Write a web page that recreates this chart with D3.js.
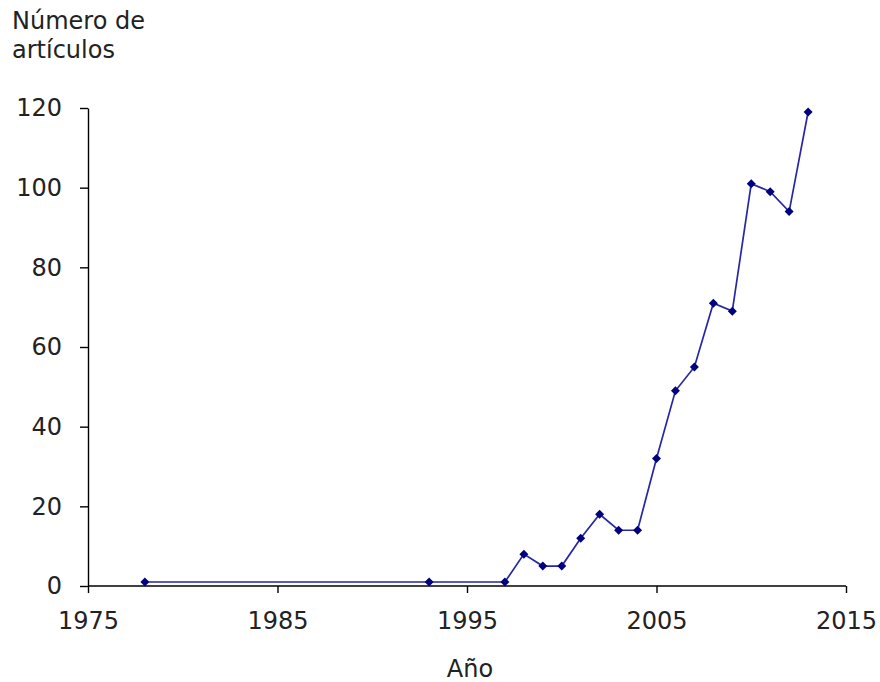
<!DOCTYPE html>
<html><head><meta charset="utf-8">
<script src="https://cdn.jsdelivr.net/npm/d3@7"></script>
<style>body{margin:0;background:#fff}text{font-family:"DejaVu Sans",Verdana,sans-serif;fill:#222}</style>
</head><body><svg id="c" width="880" height="682"></svg>
<script>
const years = [1978,1993,1997,1998,1999,2000,2001,2002,2003,2004,2005,2006,2007,2008,2009,2010,2011,2012,2013];
const counts = [1,1,1,8,5,5,12,18,14,14,32,49,55,71,69,101,99,94,119];
const xTicks = [1975,1985,1995,2005,2015];
const yTicks = [0,20,40,60,80,100,120];
const yTitle = ["Número de","artículos"];
const xTitle = "Año";

const svg = d3.select("#c");
const x = d3.scaleLinear().domain([1975,2015]).range([88,846]);
const y = d3.scaleLinear().domain([0,120]).range([586,108]);
const fs = 24;

const xa = svg.append("g").attr("transform","translate(0,586)")
  .call(d3.axisBottom(x).tickValues(xTicks).tickFormat(d3.format("d")).tickSize(7).tickSizeOuter(0).tickPadding(19));
const ya = svg.append("g").attr("transform","translate(88,0)")
  .call(d3.axisLeft(y).tickValues(yTicks).tickSize(8).tickSizeOuter(0).tickPadding(18));
[xa,ya].forEach(a=>{
  a.selectAll("path,line").attr("stroke","#000").attr("stroke-width",1.4);
  a.selectAll("text").attr("font-size",fs).attr("font-family","'DejaVu Sans',Verdana,sans-serif").attr("fill","#222");
});
xa.select("path").attr("d","M88,0H846");

const diamond = {draw(ctx,size){const r=Math.sqrt(size)/2;ctx.moveTo(0,-r);ctx.lineTo(r,0);ctx.lineTo(0,r);ctx.lineTo(-r,0);ctx.closePath();}};
const line = d3.line().x((d,i)=>x(years[i])).y(d=>y(d));
svg.append("path").datum(counts).attr("d",line).attr("fill","none").attr("stroke","#2626a6").attr("stroke-width",1.7);
svg.selectAll("path.pt").data(counts).join("path").attr("class","pt")
  .attr("d",d3.symbol(diamond,81)())
  .attr("transform",(d,i)=>`translate(${x(years[i])},${y(d)})`)
  .attr("fill","#000080");

svg.append("text").attr("x",12).attr("y",29).attr("font-size",fs).text(yTitle[0]);
svg.append("text").attr("x",12).attr("y",58).attr("font-size",fs).text(yTitle[1]);
svg.append("text").attr("x",470).attr("y",677).attr("text-anchor","middle").attr("font-size",fs).text(xTitle);
</script></body></html>
